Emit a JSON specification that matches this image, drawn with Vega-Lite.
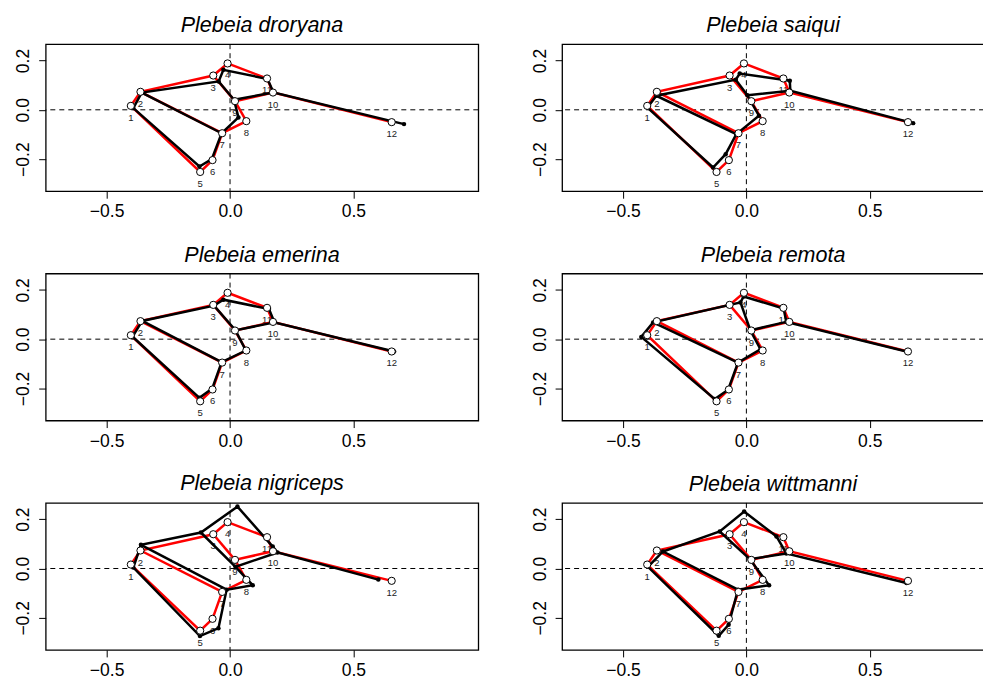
{
  "$schema": "https://vega.github.io/schema/vega-lite/v6.json",
  "autosize": {"type": "none"},
  "padding": {"left": 45.7, "top": 44.2, "right": 937.3, "bottom": 635.8},
  "background": "white",
  "datasets": {
    "paths": [
      {"path": "A", "seq": 1, "lm": 12}, {"path": "A", "seq": 2, "lm": 10}, {"path": "A", "seq": 3, "lm": 11},
      {"path": "A", "seq": 4, "lm": 4}, {"path": "A", "seq": 5, "lm": 3}, {"path": "A", "seq": 6, "lm": 2},
      {"path": "A", "seq": 7, "lm": 1}, {"path": "A", "seq": 8, "lm": 5}, {"path": "A", "seq": 9, "lm": 6},
      {"path": "A", "seq": 10, "lm": 7}, {"path": "A", "seq": 11, "lm": 8}, {"path": "A", "seq": 12, "lm": 9},
      {"path": "A", "seq": 13, "lm": 10},
      {"path": "B", "seq": 1, "lm": 3}, {"path": "B", "seq": 2, "lm": 9},
      {"path": "C", "seq": 1, "lm": 2}, {"path": "C", "seq": 2, "lm": 7}
    ],
    "mean": [
      {"lm": 1, "x": -0.402, "y": 0.016}, {"lm": 2, "x": -0.363, "y": 0.073}, {"lm": 3, "x": -0.068, "y": 0.139},
      {"lm": 4, "x": -0.010, "y": 0.188}, {"lm": 5, "x": -0.121, "y": -0.252}, {"lm": 6, "x": -0.071, "y": -0.204},
      {"lm": 7, "x": -0.032, "y": -0.095}, {"lm": 8, "x": 0.066, "y": -0.046}, {"lm": 9, "x": 0.020, "y": 0.035},
      {"lm": 10, "x": 0.174, "y": 0.070}, {"lm": 11, "x": 0.150, "y": 0.127}, {"lm": 12, "x": 0.655, "y": -0.050}
    ],
    "droryana": [
      {"lm": 1, "x": -0.392, "y": 0.007}, {"lm": 2, "x": -0.358, "y": 0.070}, {"lm": 3, "x": -0.046, "y": 0.115},
      {"lm": 4, "x": -0.027, "y": 0.162}, {"lm": 5, "x": -0.124, "y": -0.230}, {"lm": 6, "x": -0.074, "y": -0.200},
      {"lm": 7, "x": -0.034, "y": -0.095}, {"lm": 8, "x": 0.034, "y": -0.031}, {"lm": 9, "x": 0.016, "y": 0.041},
      {"lm": 10, "x": 0.176, "y": 0.070}, {"lm": 11, "x": 0.152, "y": 0.125}, {"lm": 12, "x": 0.705, "y": -0.058}
    ],
    "saiqui": [
      {"lm": 1, "x": -0.401, "y": 0.009}, {"lm": 2, "x": -0.365, "y": 0.057}, {"lm": 3, "x": -0.043, "y": 0.122},
      {"lm": 4, "x": -0.027, "y": 0.147}, {"lm": 5, "x": -0.135, "y": -0.234}, {"lm": 6, "x": -0.084, "y": -0.180},
      {"lm": 7, "x": -0.041, "y": -0.099}, {"lm": 8, "x": 0.051, "y": -0.024}, {"lm": 9, "x": 0.004, "y": 0.059},
      {"lm": 10, "x": 0.178, "y": 0.077}, {"lm": 11, "x": 0.176, "y": 0.118}, {"lm": 12, "x": 0.676, "y": -0.054}
    ],
    "emerina": [
      {"lm": 1, "x": -0.395, "y": 0.010}, {"lm": 2, "x": -0.356, "y": 0.074}, {"lm": 3, "x": -0.065, "y": 0.136},
      {"lm": 4, "x": -0.027, "y": 0.160}, {"lm": 5, "x": -0.124, "y": -0.238}, {"lm": 6, "x": -0.072, "y": -0.200},
      {"lm": 7, "x": -0.034, "y": -0.093}, {"lm": 8, "x": 0.064, "y": -0.046}, {"lm": 9, "x": 0.022, "y": 0.036},
      {"lm": 10, "x": 0.180, "y": 0.068}, {"lm": 11, "x": 0.158, "y": 0.122}, {"lm": 12, "x": 0.665, "y": -0.050}
    ],
    "remota": [
      {"lm": 1, "x": -0.426, "y": 0.009}, {"lm": 2, "x": -0.378, "y": 0.068}, {"lm": 3, "x": -0.024, "y": 0.149},
      {"lm": 4, "x": -0.011, "y": 0.173}, {"lm": 5, "x": -0.128, "y": -0.243}, {"lm": 6, "x": -0.074, "y": -0.205},
      {"lm": 7, "x": -0.034, "y": -0.095}, {"lm": 8, "x": 0.057, "y": -0.041}, {"lm": 9, "x": 0.016, "y": 0.036},
      {"lm": 10, "x": 0.162, "y": 0.070}, {"lm": 11, "x": 0.151, "y": 0.124}, {"lm": 12, "x": 0.653, "y": -0.051}
    ],
    "nigriceps": [
      {"lm": 1, "x": -0.392, "y": 0.004}, {"lm": 2, "x": -0.361, "y": 0.096}, {"lm": 3, "x": -0.118, "y": 0.146},
      {"lm": 4, "x": 0.030, "y": 0.251}, {"lm": 5, "x": -0.122, "y": -0.274}, {"lm": 6, "x": -0.047, "y": -0.242},
      {"lm": 7, "x": -0.014, "y": -0.086}, {"lm": 8, "x": 0.092, "y": -0.068}, {"lm": 9, "x": 0.022, "y": 0.007},
      {"lm": 10, "x": 0.192, "y": 0.065}, {"lm": 11, "x": 0.173, "y": 0.089}, {"lm": 12, "x": 0.601, "y": -0.045}
    ],
    "wittmanni": [
      {"lm": 1, "x": -0.399, "y": 0.007}, {"lm": 2, "x": -0.338, "y": 0.069}, {"lm": 3, "x": -0.108, "y": 0.150},
      {"lm": 4, "x": -0.009, "y": 0.231}, {"lm": 5, "x": -0.112, "y": -0.273}, {"lm": 6, "x": -0.072, "y": -0.228},
      {"lm": 7, "x": -0.034, "y": -0.086}, {"lm": 8, "x": 0.092, "y": -0.068}, {"lm": 9, "x": 0.014, "y": 0.038},
      {"lm": 10, "x": 0.162, "y": 0.061}, {"lm": 11, "x": 0.122, "y": 0.130}, {"lm": 12, "x": 0.649, "y": -0.059}
    ]
  },
  "columns": 2,
  "spacing": {"row": 82.35, "column": 83.4},
  "bounds": "flush",
  "concat": [
    {
      "width": 432.6, "height": 147,
      "title": {"text": "Plebeia droryana"},
      "layer": [
        {"data": {"values": [{}]}, "mark": {"type": "rule", "strokeDash": [5, 4], "strokeWidth": 1, "color": "black"}, "encoding": {"y": {"datum": 0, "type": "quantitative", "title": null}}},
        {"data": {"values": [{}]}, "mark": {"type": "rule", "strokeDash": [5, 4], "strokeWidth": 1, "color": "black"}, "encoding": {"x": {"datum": 0, "type": "quantitative", "title": null}}},
        {"data": {"name": "mean"}, "mark": {"type": "text", "dy": 12, "fontSize": 9.5, "color": "#222"},
         "encoding": {"x": {"field": "x", "type": "quantitative", "scale": {"domain": [-0.747, 1.006], "nice": false, "zero": false}, "axis": {"values": [-0.5, 0, 0.5], "format": ".1f"}, "title": null},
                      "y": {"field": "y", "type": "quantitative", "scale": {"domain": [-0.33, 0.266], "nice": false, "zero": false}, "axis": {"values": [-0.2, 0, 0.2], "format": ".1f"}, "title": null},
                      "text": {"field": "lm"}}},
        {"data": {"name": "paths"}, "transform": [{"lookup": "lm", "from": {"data": {"name": "mean"}, "key": "lm", "fields": ["x", "y"]}}],
         "mark": {"type": "line", "color": "#ff0000", "strokeWidth": 2.5},
         "encoding": {"x": {"field": "x", "type": "quantitative", "title": null}, "y": {"field": "y", "type": "quantitative", "title": null}, "detail": {"field": "path"}, "order": {"field": "seq"}}},
        {"data": {"name": "paths"}, "transform": [{"lookup": "lm", "from": {"data": {"name": "droryana"}, "key": "lm", "fields": ["x", "y"]}}],
         "mark": {"type": "line", "color": "black", "strokeWidth": 2.5},
         "encoding": {"x": {"field": "x", "type": "quantitative", "title": null}, "y": {"field": "y", "type": "quantitative", "title": null}, "detail": {"field": "path"}, "order": {"field": "seq"}}},
        {"data": {"name": "droryana"}, "mark": {"type": "point", "shape": "circle", "filled": true, "color": "black", "size": 20, "opacity": 1},
         "encoding": {"x": {"field": "x", "type": "quantitative", "title": null}, "y": {"field": "y", "type": "quantitative", "title": null}}},
        {"data": {"name": "mean"}, "mark": {"type": "point", "shape": "circle", "filled": true, "fill": "white", "stroke": "black", "strokeWidth": 1, "size": 52, "opacity": 1},
         "encoding": {"x": {"field": "x", "type": "quantitative", "title": null}, "y": {"field": "y", "type": "quantitative", "title": null}}}
      ]
    },
    {
      "width": 422, "height": 147,
      "title": {"text": "Plebeia saiqui"},
      "layer": [
        {"data": {"values": [{}]}, "mark": {"type": "rule", "strokeDash": [5, 4], "strokeWidth": 1, "color": "black"}, "encoding": {"y": {"datum": 0, "type": "quantitative", "title": null}}},
        {"data": {"values": [{}]}, "mark": {"type": "rule", "strokeDash": [5, 4], "strokeWidth": 1, "color": "black"}, "encoding": {"x": {"datum": 0, "type": "quantitative", "title": null}}},
        {"data": {"name": "mean"}, "mark": {"type": "text", "dy": 12, "fontSize": 9.5, "color": "#222"},
         "encoding": {"x": {"field": "x", "type": "quantitative", "scale": {"domain": [-0.747, 0.9636], "nice": false, "zero": false}, "axis": {"values": [-0.5, 0, 0.5], "format": ".1f"}, "title": null},
                      "y": {"field": "y", "type": "quantitative", "scale": {"domain": [-0.33, 0.266], "nice": false, "zero": false}, "axis": {"values": [-0.2, 0, 0.2], "format": ".1f"}, "title": null},
                      "text": {"field": "lm"}}},
        {"data": {"name": "paths"}, "transform": [{"lookup": "lm", "from": {"data": {"name": "mean"}, "key": "lm", "fields": ["x", "y"]}}],
         "mark": {"type": "line", "color": "#ff0000", "strokeWidth": 2.5},
         "encoding": {"x": {"field": "x", "type": "quantitative", "title": null}, "y": {"field": "y", "type": "quantitative", "title": null}, "detail": {"field": "path"}, "order": {"field": "seq"}}},
        {"data": {"name": "paths"}, "transform": [{"lookup": "lm", "from": {"data": {"name": "saiqui"}, "key": "lm", "fields": ["x", "y"]}}],
         "mark": {"type": "line", "color": "black", "strokeWidth": 2.5},
         "encoding": {"x": {"field": "x", "type": "quantitative", "title": null}, "y": {"field": "y", "type": "quantitative", "title": null}, "detail": {"field": "path"}, "order": {"field": "seq"}}},
        {"data": {"name": "saiqui"}, "mark": {"type": "point", "shape": "circle", "filled": true, "color": "black", "size": 20, "opacity": 1},
         "encoding": {"x": {"field": "x", "type": "quantitative", "title": null}, "y": {"field": "y", "type": "quantitative", "title": null}}},
        {"data": {"name": "mean"}, "mark": {"type": "point", "shape": "circle", "filled": true, "fill": "white", "stroke": "black", "strokeWidth": 1, "size": 52, "opacity": 1},
         "encoding": {"x": {"field": "x", "type": "quantitative", "title": null}, "y": {"field": "y", "type": "quantitative", "title": null}}}
      ]
    },
    {
      "width": 432.6, "height": 147,
      "title": {"text": "Plebeia emerina"},
      "layer": [
        {"data": {"values": [{}]}, "mark": {"type": "rule", "strokeDash": [5, 4], "strokeWidth": 1, "color": "black"}, "encoding": {"y": {"datum": 0, "type": "quantitative", "title": null}}},
        {"data": {"values": [{}]}, "mark": {"type": "rule", "strokeDash": [5, 4], "strokeWidth": 1, "color": "black"}, "encoding": {"x": {"datum": 0, "type": "quantitative", "title": null}}},
        {"data": {"name": "mean"}, "mark": {"type": "text", "dy": 12, "fontSize": 9.5, "color": "#222"},
         "encoding": {"x": {"field": "x", "type": "quantitative", "scale": {"domain": [-0.747, 1.006], "nice": false, "zero": false}, "axis": {"values": [-0.5, 0, 0.5], "format": ".1f"}, "title": null},
                      "y": {"field": "y", "type": "quantitative", "scale": {"domain": [-0.33, 0.266], "nice": false, "zero": false}, "axis": {"values": [-0.2, 0, 0.2], "format": ".1f"}, "title": null},
                      "text": {"field": "lm"}}},
        {"data": {"name": "paths"}, "transform": [{"lookup": "lm", "from": {"data": {"name": "mean"}, "key": "lm", "fields": ["x", "y"]}}],
         "mark": {"type": "line", "color": "#ff0000", "strokeWidth": 2.5},
         "encoding": {"x": {"field": "x", "type": "quantitative", "title": null}, "y": {"field": "y", "type": "quantitative", "title": null}, "detail": {"field": "path"}, "order": {"field": "seq"}}},
        {"data": {"name": "paths"}, "transform": [{"lookup": "lm", "from": {"data": {"name": "emerina"}, "key": "lm", "fields": ["x", "y"]}}],
         "mark": {"type": "line", "color": "black", "strokeWidth": 2.5},
         "encoding": {"x": {"field": "x", "type": "quantitative", "title": null}, "y": {"field": "y", "type": "quantitative", "title": null}, "detail": {"field": "path"}, "order": {"field": "seq"}}},
        {"data": {"name": "emerina"}, "mark": {"type": "point", "shape": "circle", "filled": true, "color": "black", "size": 20, "opacity": 1},
         "encoding": {"x": {"field": "x", "type": "quantitative", "title": null}, "y": {"field": "y", "type": "quantitative", "title": null}}},
        {"data": {"name": "mean"}, "mark": {"type": "point", "shape": "circle", "filled": true, "fill": "white", "stroke": "black", "strokeWidth": 1, "size": 52, "opacity": 1},
         "encoding": {"x": {"field": "x", "type": "quantitative", "title": null}, "y": {"field": "y", "type": "quantitative", "title": null}}}
      ]
    },
    {
      "width": 422, "height": 147,
      "title": {"text": "Plebeia remota"},
      "layer": [
        {"data": {"values": [{}]}, "mark": {"type": "rule", "strokeDash": [5, 4], "strokeWidth": 1, "color": "black"}, "encoding": {"y": {"datum": 0, "type": "quantitative", "title": null}}},
        {"data": {"values": [{}]}, "mark": {"type": "rule", "strokeDash": [5, 4], "strokeWidth": 1, "color": "black"}, "encoding": {"x": {"datum": 0, "type": "quantitative", "title": null}}},
        {"data": {"name": "mean"}, "mark": {"type": "text", "dy": 12, "fontSize": 9.5, "color": "#222"},
         "encoding": {"x": {"field": "x", "type": "quantitative", "scale": {"domain": [-0.747, 0.9636], "nice": false, "zero": false}, "axis": {"values": [-0.5, 0, 0.5], "format": ".1f"}, "title": null},
                      "y": {"field": "y", "type": "quantitative", "scale": {"domain": [-0.33, 0.266], "nice": false, "zero": false}, "axis": {"values": [-0.2, 0, 0.2], "format": ".1f"}, "title": null},
                      "text": {"field": "lm"}}},
        {"data": {"name": "paths"}, "transform": [{"lookup": "lm", "from": {"data": {"name": "mean"}, "key": "lm", "fields": ["x", "y"]}}],
         "mark": {"type": "line", "color": "#ff0000", "strokeWidth": 2.5},
         "encoding": {"x": {"field": "x", "type": "quantitative", "title": null}, "y": {"field": "y", "type": "quantitative", "title": null}, "detail": {"field": "path"}, "order": {"field": "seq"}}},
        {"data": {"name": "paths"}, "transform": [{"lookup": "lm", "from": {"data": {"name": "remota"}, "key": "lm", "fields": ["x", "y"]}}],
         "mark": {"type": "line", "color": "black", "strokeWidth": 2.5},
         "encoding": {"x": {"field": "x", "type": "quantitative", "title": null}, "y": {"field": "y", "type": "quantitative", "title": null}, "detail": {"field": "path"}, "order": {"field": "seq"}}},
        {"data": {"name": "remota"}, "mark": {"type": "point", "shape": "circle", "filled": true, "color": "black", "size": 20, "opacity": 1},
         "encoding": {"x": {"field": "x", "type": "quantitative", "title": null}, "y": {"field": "y", "type": "quantitative", "title": null}}},
        {"data": {"name": "mean"}, "mark": {"type": "point", "shape": "circle", "filled": true, "fill": "white", "stroke": "black", "strokeWidth": 1, "size": 52, "opacity": 1},
         "encoding": {"x": {"field": "x", "type": "quantitative", "title": null}, "y": {"field": "y", "type": "quantitative", "title": null}}}
      ]
    },
    {
      "width": 432.6, "height": 147,
      "title": {"text": "Plebeia nigriceps"},
      "layer": [
        {"data": {"values": [{}]}, "mark": {"type": "rule", "strokeDash": [5, 4], "strokeWidth": 1, "color": "black"}, "encoding": {"y": {"datum": 0, "type": "quantitative", "title": null}}},
        {"data": {"values": [{}]}, "mark": {"type": "rule", "strokeDash": [5, 4], "strokeWidth": 1, "color": "black"}, "encoding": {"x": {"datum": 0, "type": "quantitative", "title": null}}},
        {"data": {"name": "mean"}, "mark": {"type": "text", "dy": 12, "fontSize": 9.5, "color": "#222"},
         "encoding": {"x": {"field": "x", "type": "quantitative", "scale": {"domain": [-0.747, 1.006], "nice": false, "zero": false}, "axis": {"values": [-0.5, 0, 0.5], "format": ".1f"}, "title": null},
                      "y": {"field": "y", "type": "quantitative", "scale": {"domain": [-0.33, 0.266], "nice": false, "zero": false}, "axis": {"values": [-0.2, 0, 0.2], "format": ".1f"}, "title": null},
                      "text": {"field": "lm"}}},
        {"data": {"name": "paths"}, "transform": [{"lookup": "lm", "from": {"data": {"name": "mean"}, "key": "lm", "fields": ["x", "y"]}}],
         "mark": {"type": "line", "color": "#ff0000", "strokeWidth": 2.5},
         "encoding": {"x": {"field": "x", "type": "quantitative", "title": null}, "y": {"field": "y", "type": "quantitative", "title": null}, "detail": {"field": "path"}, "order": {"field": "seq"}}},
        {"data": {"name": "paths"}, "transform": [{"lookup": "lm", "from": {"data": {"name": "nigriceps"}, "key": "lm", "fields": ["x", "y"]}}],
         "mark": {"type": "line", "color": "black", "strokeWidth": 2.5},
         "encoding": {"x": {"field": "x", "type": "quantitative", "title": null}, "y": {"field": "y", "type": "quantitative", "title": null}, "detail": {"field": "path"}, "order": {"field": "seq"}}},
        {"data": {"name": "nigriceps"}, "mark": {"type": "point", "shape": "circle", "filled": true, "color": "black", "size": 20, "opacity": 1},
         "encoding": {"x": {"field": "x", "type": "quantitative", "title": null}, "y": {"field": "y", "type": "quantitative", "title": null}}},
        {"data": {"name": "mean"}, "mark": {"type": "point", "shape": "circle", "filled": true, "fill": "white", "stroke": "black", "strokeWidth": 1, "size": 52, "opacity": 1},
         "encoding": {"x": {"field": "x", "type": "quantitative", "title": null}, "y": {"field": "y", "type": "quantitative", "title": null}}}
      ]
    },
    {
      "width": 422, "height": 147,
      "title": {"text": "Plebeia wittmanni"},
      "layer": [
        {"data": {"values": [{}]}, "mark": {"type": "rule", "strokeDash": [5, 4], "strokeWidth": 1, "color": "black"}, "encoding": {"y": {"datum": 0, "type": "quantitative", "title": null}}},
        {"data": {"values": [{}]}, "mark": {"type": "rule", "strokeDash": [5, 4], "strokeWidth": 1, "color": "black"}, "encoding": {"x": {"datum": 0, "type": "quantitative", "title": null}}},
        {"data": {"name": "mean"}, "mark": {"type": "text", "dy": 12, "fontSize": 9.5, "color": "#222"},
         "encoding": {"x": {"field": "x", "type": "quantitative", "scale": {"domain": [-0.747, 0.9636], "nice": false, "zero": false}, "axis": {"values": [-0.5, 0, 0.5], "format": ".1f"}, "title": null},
                      "y": {"field": "y", "type": "quantitative", "scale": {"domain": [-0.33, 0.266], "nice": false, "zero": false}, "axis": {"values": [-0.2, 0, 0.2], "format": ".1f"}, "title": null},
                      "text": {"field": "lm"}}},
        {"data": {"name": "paths"}, "transform": [{"lookup": "lm", "from": {"data": {"name": "mean"}, "key": "lm", "fields": ["x", "y"]}}],
         "mark": {"type": "line", "color": "#ff0000", "strokeWidth": 2.5},
         "encoding": {"x": {"field": "x", "type": "quantitative", "title": null}, "y": {"field": "y", "type": "quantitative", "title": null}, "detail": {"field": "path"}, "order": {"field": "seq"}}},
        {"data": {"name": "paths"}, "transform": [{"lookup": "lm", "from": {"data": {"name": "wittmanni"}, "key": "lm", "fields": ["x", "y"]}}],
         "mark": {"type": "line", "color": "black", "strokeWidth": 2.5},
         "encoding": {"x": {"field": "x", "type": "quantitative", "title": null}, "y": {"field": "y", "type": "quantitative", "title": null}, "detail": {"field": "path"}, "order": {"field": "seq"}}},
        {"data": {"name": "wittmanni"}, "mark": {"type": "point", "shape": "circle", "filled": true, "color": "black", "size": 20, "opacity": 1},
         "encoding": {"x": {"field": "x", "type": "quantitative", "title": null}, "y": {"field": "y", "type": "quantitative", "title": null}}},
        {"data": {"name": "mean"}, "mark": {"type": "point", "shape": "circle", "filled": true, "fill": "white", "stroke": "black", "strokeWidth": 1, "size": 52, "opacity": 1},
         "encoding": {"x": {"field": "x", "type": "quantitative", "title": null}, "y": {"field": "y", "type": "quantitative", "title": null}}}
      ]
    }
  ],
  "config": {
    "view": {"stroke": "black", "strokeWidth": 1.3},
    "axis": {"grid": false, "domain": false, "ticks": true, "tickColor": "black", "tickSize": 7, "tickWidth": 1, "labelFont": "Liberation Sans", "labelFontSize": 17.5, "labelColor": "black"},
    "axisX": {"labelPadding": 4.5, "labelFlush": false},
    "axisY": {"labelAngle": 270, "labelAlign": "center", "labelBaseline": "bottom", "labelPadding": 6},
    "title": {"font": "Liberation Sans", "fontSize": 21.5, "fontStyle": "italic", "fontWeight": "normal", "color": "black", "offset": 7, "baseline": "alphabetic", "anchor": "middle"},
    "text": {"font": "Liberation Sans"}
  }
}
